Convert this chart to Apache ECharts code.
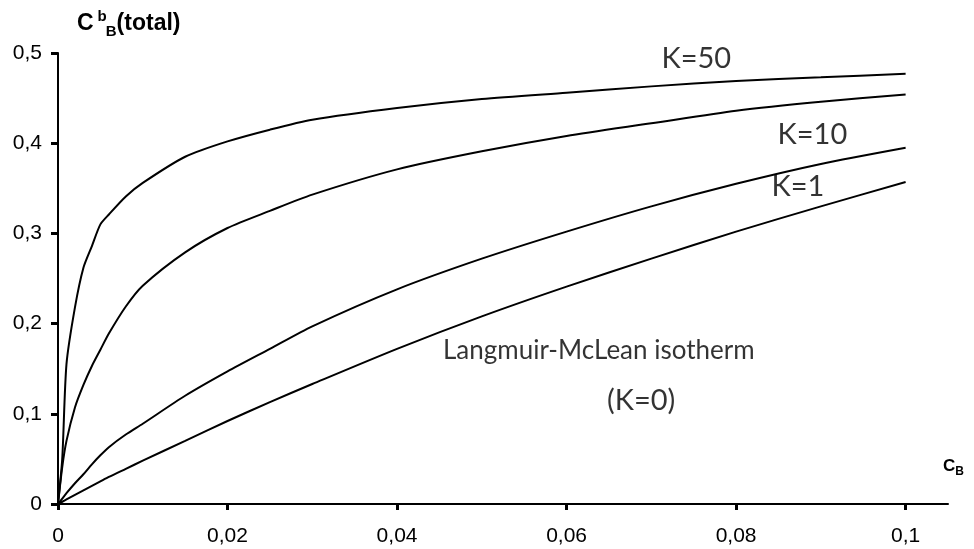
<!DOCTYPE html>
<html>
<head>
<meta charset="utf-8">
<script src="https://cdn.jsdelivr.net/npm/echarts@6/dist/echarts.min.js"></script>
<style>
html,body{margin:0;padding:0;background:#fff;}
#chart{width:974px;height:549px;}
</style>
</head>
<body>
<div id="chart"></div>
<script>
// Bulk concentration C_B (x values)
const cB = [0, 0.0005, 0.001, 0.002, 0.003, 0.004, 0.005, 0.006, 0.008, 0.01, 0.015, 0.02, 0.025, 0.03, 0.04, 0.05, 0.06, 0.07, 0.08, 0.09, 0.1];
// Total boundary concentration for each K
const k50 = [0, 0.05, 0.155, 0.218, 0.262, 0.286, 0.31, 0.321, 0.341, 0.356, 0.385, 0.402, 0.415, 0.426, 0.439, 0.449, 0.456, 0.463, 0.469, 0.473, 0.477];
const k10 = [0, 0.041, 0.07, 0.107, 0.132, 0.153, 0.171, 0.189, 0.219, 0.242, 0.279, 0.306, 0.325, 0.343, 0.371, 0.391, 0.408, 0.422, 0.436, 0.446, 0.454];
const k1  = [0, 0.006, 0.012, 0.023, 0.033, 0.044, 0.054, 0.063, 0.077, 0.089, 0.12, 0.147, 0.172, 0.197, 0.238, 0.272, 0.302, 0.33, 0.355, 0.377, 0.395];
const k0  = [0, 0.0025, 0.005, 0.01, 0.015, 0.02, 0.025, 0.03, 0.039, 0.048, 0.07, 0.092, 0.113, 0.133, 0.172, 0.208, 0.241, 0.272, 0.302, 0.33, 0.357];
// Tick values
const xTicks = [0, 0.02, 0.04, 0.06, 0.08, 0.1];
const yTicks = [0, 0.1, 0.2, 0.3, 0.4, 0.5];
// Curve annotations [x, y, text]
const annotations = [
  [0.0753, 0.494, 'K=50'],
  [0.089, 0.41, 'K=10'],
  [0.0873, 0.352, 'K=1'],
  [0.0638, 0.170, 'Langmuir-McLean isotherm'],
  [0.0688, 0.115, '(K=0)']
];

const pairs = ys => cB.map((x, i) => [x, ys[i]]);
const fmt = v => (v === 0 ? '0' : String(+v.toFixed(3)).replace('.', ','));
const curveStyle = { color: '#000', width: 2 };
const mkLine = (name, ys) => ({
  name, type: 'line', data: pairs(ys), showSymbol: false, symbol: 'none',
  smooth: 0.25, lineStyle: curveStyle, silent: true, z: 3
});

const chart = echarts.init(document.getElementById('chart'), null, { renderer: 'canvas' });
chart.setOption({
  animation: false,
  backgroundColor: '#fff',
  grid: { left: 58, right: 26, top: 53, bottom: 45, containLabel: false },
  xAxis: {
    type: 'value', min: 0, max: 0.105,
    name: '{c|C}{sub|B}', nameLocation: 'end', nameGap: -5,
    nameTextStyle: {
      align: 'left', verticalAlign: 'bottom', padding: [0, 0, 26, 0],
      rich: {
        c: { fontFamily: 'Liberation Sans', fontWeight: 'bold', fontSize: 17, color: '#000', lineHeight: 20, verticalAlign: 'top' },
        sub: { fontFamily: 'Liberation Sans', fontWeight: 'bold', fontSize: 12, color: '#000', lineHeight: 12, verticalAlign: 'bottom' }
      }
    },
    axisLine: { show: true, lineStyle: { color: '#000', width: 2 } },
    axisTick: { show: true, length: 6, lineStyle: { color: '#000', width: 3 }, customValues: xTicks },
    axisLabel: { customValues: xTicks, formatter: fmt, margin: 22, fontFamily: 'Liberation Sans', fontSize: 21, color: '#000' },
    splitLine: { show: false }
  },
  yAxis: {
    type: 'value', min: 0, max: 0.5, interval: 0.1,
    name: '{c|C}{sup|b}{sub|B}{c|(total)}', nameLocation: 'end', nameGap: 14,
    nameTextStyle: {
      align: 'left', verticalAlign: 'bottom', padding: [0, 0, 0, 19],
      rich: {
        c: { fontFamily: 'Liberation Sans', fontWeight: 'bold', fontSize: 23, color: '#000', lineHeight: 30 },
        sup: { fontFamily: 'Liberation Sans', fontWeight: 'bold', fontSize: 15, color: '#000', lineHeight: 14, verticalAlign: 'top', padding: [0, 0, 0, 4] },
        sub: { fontFamily: 'Liberation Sans', fontWeight: 'bold', fontSize: 15, color: '#000', lineHeight: 14, verticalAlign: 'bottom', padding: [0, 0, 0, -1] }
      }
    },
    axisLine: { show: true, lineStyle: { color: '#000', width: 2 } },
    axisTick: { show: true, length: 7, lineStyle: { color: '#000', width: 3 } },
    axisLabel: { formatter: fmt, margin: 16, fontFamily: 'Liberation Sans', fontSize: 21, color: '#000' },
    splitLine: { show: false }
  },
  series: [
    mkLine('K=50', k50),
    mkLine('K=10', k10),
    mkLine('K=1', k1),
    mkLine('K=0', k0),
    {
      name: 'labels', type: 'scatter', data: annotations, symbolSize: 0, silent: true, z: 4,
      label: {
        show: true, position: 'inside',
        formatter: p => (p.value[2].length > 10 ? '{s|' + p.value[2] + '}' : p.value[2]),
        fontFamily: 'Lato', fontSize: 29, color: '#000',
        rich: { s: { fontFamily: 'Lato', fontSize: 26, color: '#000' } }
      }
    }
  ]
});
</script>
</body>
</html>
